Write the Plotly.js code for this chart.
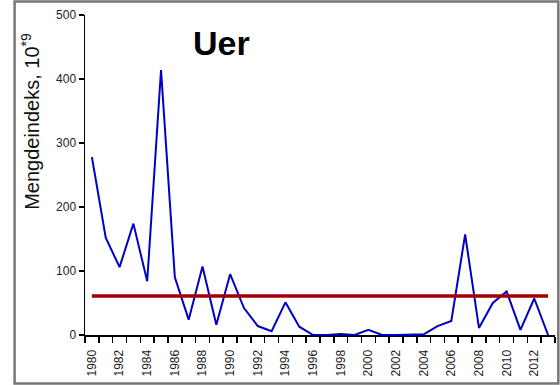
<!DOCTYPE html>
<html>
<head>
<meta charset="utf-8">
<script src="https://cdn.plot.ly/plotly-3.0.1.min.js"></script>
<style>html,body{margin:0;padding:0;background:#fff;}#chart{width:560px;height:385px;}</style>
</head>
<body>
<div id="chart"></div>
<script>
const years = [1980,1981,1982,1983,1984,1985,1986,1987,1988,1989,1990,1991,1992,1993,1994,1995,1996,1997,1998,1999,2000,2001,2002,2003,2004,2005,2006,2007,2008,2009,2010,2011,2012,2013];
const indexValues = [278,152,106,174,84,414,90,24,107,16,95,42,14,6,51,13,0,0,1.5,0,8,0,0,0,1,14,22,157,11,50,68,8,57,0];
const meanValues = years.map(() => 61);
const tickYears = [1980,1982,1984,1986,1988,1990,1992,1994,1996,1998,2000,2002,2004,2006,2008,2010,2012];
const tickLabels = tickYears.map(String);
const yTicks = [0,100,200,300,400,500];
const boundaries = years.concat([2014]).map(v => v - 0.5);

const traces = [
  {x: years, y: meanValues, xaxis: 'x2', type: 'scatter', mode: 'lines', line: {color: '#A00000', width: 3.5}, hoverinfo: 'skip'},
  {x: years, y: indexValues, type: 'scatter', mode: 'lines', line: {color: '#0000C8', width: 2}}
];

const layout = {
  width: 560, height: 385,
  margin: {l: 85, r: 5, t: 15, b: 50},
  paper_bgcolor: '#fff', plot_bgcolor: '#fff',
  showlegend: false,
  font: {family: 'Arial, Liberation Sans, sans-serif', color: '#222'},
  xaxis: {
    range: [1979.5, 2013.5],
    tickmode: 'array', tickvals: boundaries,
    showticklabels: false,
    ticks: 'outside', ticklen: 6, tickwidth: 1.5, tickcolor: '#000',
    showgrid: false, zeroline: false,
    showline: true, linecolor: '#000', linewidth: 1.5
  },
  xaxis2: {
    overlaying: 'x', anchor: 'y', side: 'bottom',
    range: [1979.5, 2013.5],
    tickmode: 'array', tickvals: tickYears, ticktext: tickLabels,
    tickangle: 270, ticks: 'outside', ticklen: 9, tickcolor: 'rgba(0,0,0,0)',
    tickfont: {size: 12, color: '#222'},
    showgrid: false, zeroline: false, showline: false
  },
  yaxis: {
    range: [0, 500],
    tickmode: 'array', tickvals: yTicks,
    ticks: 'outside', ticklen: 5, tickwidth: 1.5, tickcolor: '#000',
    tickfont: {size: 12, color: '#222'},
    showgrid: false, zeroline: false,
    showline: true, linecolor: '#000', linewidth: 1.5
  },
  annotations: [
    {text: '<b>Uer</b>', xref: 'paper', yref: 'paper', x: 0.29, y: 0.912, xanchor: 'center', yanchor: 'middle', showarrow: false, font: {size: 34, color: '#000'}},
    {text: 'Mengdeindeks, 10<sup>*9</sup>', xref: 'paper', yref: 'paper', x: -0.115, y: 0.669, xanchor: 'center', yanchor: 'middle', textangle: -90, showarrow: false, font: {size: 20, color: '#111'}}
  ],
  shapes: [
    {type: 'rect', xref: 'paper', yref: 'paper', x0: -0.1498, x1: 1.0071, y0: -0.1515, y1: 1.0424, line: {color: '#777', width: 2.5}}
  ]
};

Plotly.newPlot('chart', traces, layout, {displayModeBar: false, staticPlot: true});
</script>
</body>
</html>
